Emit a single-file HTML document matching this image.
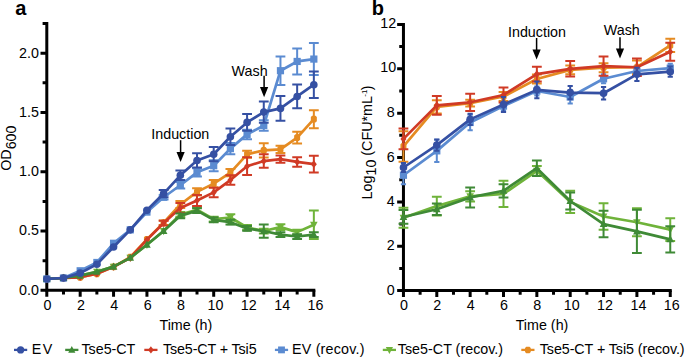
<!DOCTYPE html>
<html><head><meta charset="utf-8"><style>
html,body{margin:0;padding:0;background:#fff;}
svg{display:block;}
text{font-family:"Liberation Sans",sans-serif;font-size:14.3px;fill:#000;stroke:#000;stroke-width:0;}
</style></head><body>
<svg width="685" height="358" viewBox="0 0 685 358">
<rect width="685" height="358" fill="#fff"/>
<path d="M46.80 22.00V291.85M45.30 290.35H315.34" stroke="#000" stroke-width="3" fill="none"/>
<path d="M40.50 290.35H46.80M42.60 260.70H46.80M40.50 231.05H46.80M42.60 201.40H46.80M40.50 171.75H46.80M42.60 142.10H46.80M40.50 112.45H46.80M42.60 82.80H46.80M40.50 53.15H46.80M42.60 23.50H46.80M46.80 290.35V296.65M63.49 290.35V294.55M80.18 290.35V296.65M96.87 290.35V294.55M113.56 290.35V296.65M130.25 290.35V294.55M146.94 290.35V296.65M163.63 290.35V294.55M180.32 290.35V296.65M197.01 290.35V294.55M213.70 290.35V296.65M230.39 290.35V294.55M247.08 290.35V296.65M263.77 290.35V294.55M280.46 290.35V296.65M297.15 290.35V294.55M313.84 290.35V296.65" stroke="#000" stroke-width="3" fill="none"/>
<text x="38.90" y="294.75" text-anchor="end" >0.0</text>
<text x="38.90" y="235.45" text-anchor="end" >0.5</text>
<text x="38.90" y="176.15" text-anchor="end" >1.0</text>
<text x="38.90" y="116.85" text-anchor="end" >1.5</text>
<text x="38.90" y="57.55" text-anchor="end" >2.0</text>
<text x="47.55" y="309.70" text-anchor="middle" >0</text>
<text x="80.93" y="309.70" text-anchor="middle" >2</text>
<text x="114.31" y="309.70" text-anchor="middle" >4</text>
<text x="147.69" y="309.70" text-anchor="middle" >6</text>
<text x="181.07" y="309.70" text-anchor="middle" >8</text>
<text x="215.40" y="309.70" text-anchor="middle" >10</text>
<text x="248.78" y="309.70" text-anchor="middle" >12</text>
<text x="282.16" y="309.70" text-anchor="middle" >14</text>
<text x="315.54" y="309.70" text-anchor="middle" >16</text>
<path d="M403.45 22.94V292.10M401.95 290.60H671.75" stroke="#000" stroke-width="3" fill="none"/>
<path d="M397.15 290.60H403.45M399.25 268.42H403.45M397.15 246.24H403.45M399.25 224.06H403.45M397.15 201.88H403.45M399.25 179.70H403.45M397.15 157.52H403.45M399.25 135.34H403.45M397.15 113.16H403.45M399.25 90.98H403.45M397.15 68.80H403.45M399.25 46.62H403.45M397.15 24.44H403.45M403.45 290.60V296.90M420.12 290.60V294.80M436.80 290.60V296.90M453.48 290.60V294.80M470.15 290.60V296.90M486.82 290.60V294.80M503.50 290.60V296.90M520.17 290.60V294.80M536.85 290.60V296.90M553.52 290.60V294.80M570.20 290.60V296.90M586.88 290.60V294.80M603.55 290.60V296.90M620.23 290.60V294.80M636.90 290.60V296.90M653.58 290.60V294.80M670.25 290.60V296.90" stroke="#000" stroke-width="3" fill="none"/>
<text x="394.70" y="294.60" text-anchor="end" >0</text>
<text x="394.70" y="250.24" text-anchor="end" >2</text>
<text x="394.70" y="205.88" text-anchor="end" >4</text>
<text x="394.70" y="161.52" text-anchor="end" >6</text>
<text x="394.70" y="117.16" text-anchor="end" >8</text>
<text x="396.10" y="72.30" text-anchor="end" >10</text>
<text x="396.10" y="27.94" text-anchor="end" >12</text>
<text x="403.95" y="309.90" text-anchor="middle" >0</text>
<text x="437.30" y="309.90" text-anchor="middle" >2</text>
<text x="470.65" y="309.90" text-anchor="middle" >4</text>
<text x="504.00" y="309.90" text-anchor="middle" >6</text>
<text x="537.35" y="309.90" text-anchor="middle" >8</text>
<text x="571.70" y="309.90" text-anchor="middle" >10</text>
<text x="605.05" y="309.90" text-anchor="middle" >12</text>
<text x="638.40" y="309.90" text-anchor="middle" >14</text>
<text x="671.75" y="309.90" text-anchor="middle" >16</text>
<text x="185.80" y="329.50" text-anchor="middle" >Time (h)</text>
<text x="542.00" y="330.30" text-anchor="middle" >Time (h)</text>
<text transform="translate(10.6,170.8) rotate(-90)">OD<tspan dy="5.8">600</tspan></text>
<text transform="translate(371.8,199.4) rotate(-90)">Log<tspan dy="4">10</tspan><tspan dy="-4"> (CFU*mL</tspan><tspan style="font-size:8px" dx="-0.6" dy="-5">-1</tspan><tspan dx="-0.8" dy="5">)</tspan></text>
<text x="15.2" y="14.8" style="font-weight:bold;font-size:20px">a</text>
<text x="371.7" y="14.8" style="font-weight:bold;font-size:20px">b</text>
<text x="180.30" y="138.90" text-anchor="middle" >Induction</text>
<path d="M180.60 140.20V156.10" stroke="#000" stroke-width="1.5"/>
<path d="M176.50 151.90L184.70 151.90L180.60 162.10Z" fill="#000"/>
<text x="249.60" y="75.70" text-anchor="middle" >Wash</text>
<path d="M264.10 75.70V91.20" stroke="#000" stroke-width="1.5"/>
<path d="M260.00 87.00L268.20 87.00L264.10 97.20Z" fill="#000"/>
<text x="537.00" y="36.80" text-anchor="middle" >Induction</text>
<path d="M536.60 38.00V53.60" stroke="#000" stroke-width="1.5"/>
<path d="M532.50 49.40L540.70 49.40L536.60 59.60Z" fill="#000"/>
<text x="621.80" y="35.00" text-anchor="middle" >Wash</text>
<path d="M620.00 37.30V52.60" stroke="#000" stroke-width="1.5"/>
<path d="M615.90 48.40L624.10 48.40L620.00 58.60Z" fill="#000"/>
<polyline points="46.80,278.96 63.49,278.02 80.18,277.30 96.87,273.75 113.56,266.87 130.25,257.14 146.94,239.35 163.63,222.75 180.32,204.48 197.01,191.91 213.70,183.61 230.39,172.58 247.08,154.32 263.77,150.40 280.46,149.33 297.15,137.59 313.84,119.21" fill="none" stroke="#e58b22" stroke-width="2.7" stroke-linejoin="round"/>
<path d="M163.63 220.38V225.12M158.73 220.38H168.53M158.73 225.12H168.53" stroke="#e58b22" stroke-width="2.0" fill="none"/>
<path d="M180.32 200.93V208.04M175.42 200.93H185.22M175.42 208.04H185.22" stroke="#e58b22" stroke-width="2.0" fill="none"/>
<path d="M197.01 188.35V195.47M192.11 188.35H201.91M192.11 195.47H201.91" stroke="#e58b22" stroke-width="2.0" fill="none"/>
<path d="M213.70 180.05V187.17M208.80 180.05H218.60M208.80 187.17H218.60" stroke="#e58b22" stroke-width="2.0" fill="none"/>
<path d="M230.39 169.02V176.14M225.49 169.02H235.29M225.49 176.14H235.29" stroke="#e58b22" stroke-width="2.0" fill="none"/>
<path d="M247.08 150.76V157.87M242.18 150.76H251.98M242.18 157.87H251.98" stroke="#e58b22" stroke-width="2.0" fill="none"/>
<path d="M263.77 143.29V157.52M258.87 143.29H268.67M258.87 157.52H268.67" stroke="#e58b22" stroke-width="2.0" fill="none"/>
<path d="M280.46 145.78V152.89M275.56 145.78H285.36M275.56 152.89H285.36" stroke="#e58b22" stroke-width="2.0" fill="none"/>
<path d="M297.15 131.66V143.52M292.25 131.66H302.05M292.25 143.52H302.05" stroke="#e58b22" stroke-width="2.0" fill="none"/>
<path d="M313.84 110.20V128.22M308.94 110.20H318.74M308.94 128.22H318.74" stroke="#e58b22" stroke-width="2.0" fill="none"/>
<path d="M45.10 275.56L48.50 275.56L49.80 276.86L49.80 281.06L48.50 282.36L45.10 282.36L43.80 281.06L43.80 276.86Z" fill="#e58b22"/>
<path d="M61.79 274.62L65.19 274.62L66.49 275.92L66.49 280.12L65.19 281.42L61.79 281.42L60.49 280.12L60.49 275.92Z" fill="#e58b22"/>
<path d="M78.48 273.90L81.88 273.90L83.18 275.20L83.18 279.40L81.88 280.70L78.48 280.70L77.18 279.40L77.18 275.20Z" fill="#e58b22"/>
<path d="M95.17 270.35L98.57 270.35L99.87 271.65L99.87 275.85L98.57 277.15L95.17 277.15L93.87 275.85L93.87 271.65Z" fill="#e58b22"/>
<path d="M111.86 263.47L115.26 263.47L116.56 264.77L116.56 268.97L115.26 270.27L111.86 270.27L110.56 268.97L110.56 264.77Z" fill="#e58b22"/>
<path d="M128.55 253.74L131.95 253.74L133.25 255.04L133.25 259.24L131.95 260.54L128.55 260.54L127.25 259.24L127.25 255.04Z" fill="#e58b22"/>
<path d="M145.24 235.95L148.64 235.95L149.94 237.25L149.94 241.45L148.64 242.75L145.24 242.75L143.94 241.45L143.94 237.25Z" fill="#e58b22"/>
<path d="M161.93 219.35L165.33 219.35L166.63 220.65L166.63 224.85L165.33 226.15L161.93 226.15L160.63 224.85L160.63 220.65Z" fill="#e58b22"/>
<path d="M178.62 201.08L182.02 201.08L183.32 202.38L183.32 206.58L182.02 207.88L178.62 207.88L177.32 206.58L177.32 202.38Z" fill="#e58b22"/>
<path d="M195.31 188.51L198.71 188.51L200.01 189.81L200.01 194.01L198.71 195.31L195.31 195.31L194.01 194.01L194.01 189.81Z" fill="#e58b22"/>
<path d="M212.00 180.21L215.40 180.21L216.70 181.51L216.70 185.71L215.40 187.01L212.00 187.01L210.70 185.71L210.70 181.51Z" fill="#e58b22"/>
<path d="M228.69 169.18L232.09 169.18L233.39 170.48L233.39 174.68L232.09 175.98L228.69 175.98L227.39 174.68L227.39 170.48Z" fill="#e58b22"/>
<path d="M245.38 150.92L248.78 150.92L250.08 152.22L250.08 156.42L248.78 157.72L245.38 157.72L244.08 156.42L244.08 152.22Z" fill="#e58b22"/>
<path d="M262.07 147.00L265.47 147.00L266.77 148.30L266.77 152.50L265.47 153.80L262.07 153.80L260.77 152.50L260.77 148.30Z" fill="#e58b22"/>
<path d="M278.76 145.93L282.16 145.93L283.46 147.23L283.46 151.43L282.16 152.73L278.76 152.73L277.46 151.43L277.46 147.23Z" fill="#e58b22"/>
<path d="M295.45 134.19L298.85 134.19L300.15 135.49L300.15 139.69L298.85 140.99L295.45 140.99L294.15 139.69L294.15 135.49Z" fill="#e58b22"/>
<path d="M312.14 115.81L315.54 115.81L316.84 117.11L316.84 121.31L315.54 122.61L312.14 122.61L310.84 121.31L310.84 117.11Z" fill="#e58b22"/>
<polyline points="46.80,278.96 63.49,278.02 80.18,275.64 96.87,271.85 113.56,266.63 130.25,257.85 146.94,244.69 163.63,231.05 180.32,214.45 197.01,209.70 213.70,219.19 230.39,217.53 247.08,227.49 263.77,231.05 280.46,227.14 297.15,232.12 313.84,224.65" fill="none" stroke="#6fb33a" stroke-width="2.7" stroke-linejoin="round"/>
<path d="M180.32 212.07V216.82M175.42 212.07H185.22M175.42 216.82H185.22" stroke="#6fb33a" stroke-width="2.0" fill="none"/>
<path d="M197.01 207.33V212.07M192.11 207.33H201.91M192.11 212.07H201.91" stroke="#6fb33a" stroke-width="2.0" fill="none"/>
<path d="M213.70 216.82V221.56M208.80 216.82H218.60M208.80 221.56H218.60" stroke="#6fb33a" stroke-width="2.0" fill="none"/>
<path d="M230.39 214.21V220.85M225.49 214.21H235.29M225.49 220.85H235.29" stroke="#6fb33a" stroke-width="2.0" fill="none"/>
<path d="M247.08 225.12V229.86M242.18 225.12H251.98M242.18 229.86H251.98" stroke="#6fb33a" stroke-width="2.0" fill="none"/>
<path d="M263.77 228.68V233.42M258.87 228.68H268.67M258.87 233.42H268.67" stroke="#6fb33a" stroke-width="2.0" fill="none"/>
<path d="M280.46 224.17V230.10M275.56 224.17H285.36M275.56 230.10H285.36" stroke="#6fb33a" stroke-width="2.0" fill="none"/>
<path d="M297.15 229.75V234.49M292.25 229.75H302.05M292.25 234.49H302.05" stroke="#6fb33a" stroke-width="2.0" fill="none"/>
<path d="M313.84 210.41V238.88M308.94 210.41H318.74M308.94 238.88H318.74" stroke="#6fb33a" stroke-width="2.0" fill="none"/>
<path d="M46.80 283.16L50.60 275.96L43.00 275.96Z" fill="#6fb33a"/>
<path d="M63.49 282.22L67.29 275.02L59.69 275.02Z" fill="#6fb33a"/>
<path d="M80.18 279.84L83.98 272.64L76.38 272.64Z" fill="#6fb33a"/>
<path d="M96.87 276.05L100.67 268.85L93.07 268.85Z" fill="#6fb33a"/>
<path d="M113.56 270.83L117.36 263.63L109.76 263.63Z" fill="#6fb33a"/>
<path d="M130.25 262.05L134.05 254.85L126.45 254.85Z" fill="#6fb33a"/>
<path d="M146.94 248.89L150.74 241.69L143.14 241.69Z" fill="#6fb33a"/>
<path d="M163.63 235.25L167.43 228.05L159.83 228.05Z" fill="#6fb33a"/>
<path d="M180.32 218.65L184.12 211.45L176.52 211.45Z" fill="#6fb33a"/>
<path d="M197.01 213.90L200.81 206.70L193.21 206.70Z" fill="#6fb33a"/>
<path d="M213.70 223.39L217.50 216.19L209.90 216.19Z" fill="#6fb33a"/>
<path d="M230.39 221.73L234.19 214.53L226.59 214.53Z" fill="#6fb33a"/>
<path d="M247.08 231.69L250.88 224.49L243.28 224.49Z" fill="#6fb33a"/>
<path d="M263.77 235.25L267.57 228.05L259.97 228.05Z" fill="#6fb33a"/>
<path d="M280.46 231.34L284.26 224.14L276.66 224.14Z" fill="#6fb33a"/>
<path d="M297.15 236.32L300.95 229.12L293.35 229.12Z" fill="#6fb33a"/>
<path d="M313.84 228.85L317.64 221.65L310.04 221.65Z" fill="#6fb33a"/>
<polyline points="46.80,278.96 63.49,278.02 80.18,270.78 96.87,262.48 113.56,243.27 130.25,229.86 146.94,212.07 163.63,197.25 180.32,185.27 197.01,172.34 213.70,165.70 230.39,148.62 247.08,134.39 263.77,125.50 280.46,70.70 297.15,61.45 313.84,59.08" fill="none" stroke="#5b8bd1" stroke-width="2.7" stroke-linejoin="round"/>
<path d="M163.63 194.88V199.62M158.73 194.88H168.53M158.73 199.62H168.53" stroke="#5b8bd1" stroke-width="2.0" fill="none"/>
<path d="M180.32 181.95V188.59M175.42 181.95H185.22M175.42 188.59H185.22" stroke="#5b8bd1" stroke-width="2.0" fill="none"/>
<path d="M197.01 168.19V176.49M192.11 168.19H201.91M192.11 176.49H201.91" stroke="#5b8bd1" stroke-width="2.0" fill="none"/>
<path d="M213.70 160.13V171.28M208.80 160.13H218.60M208.80 171.28H218.60" stroke="#5b8bd1" stroke-width="2.0" fill="none"/>
<path d="M230.39 143.05V154.20M225.49 143.05H235.29M225.49 154.20H235.29" stroke="#5b8bd1" stroke-width="2.0" fill="none"/>
<path d="M247.08 129.65V139.14M242.18 129.65H251.98M242.18 139.14H251.98" stroke="#5b8bd1" stroke-width="2.0" fill="none"/>
<path d="M263.77 120.16V130.83M258.87 120.16H268.67M258.87 130.83H268.67" stroke="#5b8bd1" stroke-width="2.0" fill="none"/>
<path d="M280.46 56.47V84.93M275.56 56.47H285.36M275.56 84.93H285.36" stroke="#5b8bd1" stroke-width="2.0" fill="none"/>
<path d="M297.15 48.41V74.50M292.25 48.41H302.05M292.25 74.50H302.05" stroke="#5b8bd1" stroke-width="2.0" fill="none"/>
<path d="M313.84 43.07V75.09M308.94 43.07H318.74M308.94 75.09H318.74" stroke="#5b8bd1" stroke-width="2.0" fill="none"/>
<rect x="43.20" y="275.36" width="7.20" height="7.20" fill="#5b8bd1"/>
<rect x="59.89" y="274.42" width="7.20" height="7.20" fill="#5b8bd1"/>
<rect x="76.58" y="267.18" width="7.20" height="7.20" fill="#5b8bd1"/>
<rect x="93.27" y="258.88" width="7.20" height="7.20" fill="#5b8bd1"/>
<rect x="109.96" y="239.67" width="7.20" height="7.20" fill="#5b8bd1"/>
<rect x="126.65" y="226.26" width="7.20" height="7.20" fill="#5b8bd1"/>
<rect x="143.34" y="208.47" width="7.20" height="7.20" fill="#5b8bd1"/>
<rect x="160.03" y="193.65" width="7.20" height="7.20" fill="#5b8bd1"/>
<rect x="176.72" y="181.67" width="7.20" height="7.20" fill="#5b8bd1"/>
<rect x="193.41" y="168.74" width="7.20" height="7.20" fill="#5b8bd1"/>
<rect x="210.10" y="162.10" width="7.20" height="7.20" fill="#5b8bd1"/>
<rect x="226.79" y="145.02" width="7.20" height="7.20" fill="#5b8bd1"/>
<rect x="243.48" y="130.79" width="7.20" height="7.20" fill="#5b8bd1"/>
<rect x="260.17" y="121.90" width="7.20" height="7.20" fill="#5b8bd1"/>
<rect x="276.86" y="67.10" width="7.20" height="7.20" fill="#5b8bd1"/>
<rect x="293.55" y="57.85" width="7.20" height="7.20" fill="#5b8bd1"/>
<rect x="310.24" y="55.48" width="7.20" height="7.20" fill="#5b8bd1"/>
<polyline points="46.80,278.96 63.49,278.02 80.18,277.30 96.87,273.75 113.56,266.87 130.25,257.85 146.94,239.71 163.63,223.10 180.32,207.92 197.01,200.45 213.70,192.39 230.39,180.05 247.08,166.18 263.77,161.08 280.46,159.18 297.15,161.91 313.84,164.16" fill="none" stroke="#d03a25" stroke-width="2.7" stroke-linejoin="round"/>
<path d="M163.63 220.73V225.48M158.73 220.73H168.53M158.73 225.48H168.53" stroke="#d03a25" stroke-width="2.0" fill="none"/>
<path d="M180.32 202.94V212.90M175.42 202.94H185.22M175.42 212.90H185.22" stroke="#d03a25" stroke-width="2.0" fill="none"/>
<path d="M197.01 194.88V206.03M192.11 194.88H201.91M192.11 206.03H201.91" stroke="#d03a25" stroke-width="2.0" fill="none"/>
<path d="M213.70 187.64V197.13M208.80 187.64H218.60M208.80 197.13H218.60" stroke="#d03a25" stroke-width="2.0" fill="none"/>
<path d="M230.39 175.31V184.80M225.49 175.31H235.29M225.49 184.80H235.29" stroke="#d03a25" stroke-width="2.0" fill="none"/>
<path d="M247.08 157.28V175.07M242.18 157.28H251.98M242.18 175.07H251.98" stroke="#d03a25" stroke-width="2.0" fill="none"/>
<path d="M263.77 154.32V167.84M258.87 154.32H268.67M258.87 167.84H268.67" stroke="#d03a25" stroke-width="2.0" fill="none"/>
<path d="M280.46 155.62V162.74M275.56 155.62H285.36M275.56 162.74H285.36" stroke="#d03a25" stroke-width="2.0" fill="none"/>
<path d="M297.15 157.16V166.65M292.25 157.16H302.05M292.25 166.65H302.05" stroke="#d03a25" stroke-width="2.0" fill="none"/>
<path d="M313.84 155.86V172.46M308.94 155.86H318.74M308.94 172.46H318.74" stroke="#d03a25" stroke-width="2.0" fill="none"/>
<path d="M46.80 275.16L49.80 278.96L46.80 282.76L43.80 278.96Z" fill="#d03a25"/>
<path d="M63.49 274.22L66.49 278.02L63.49 281.82L60.49 278.02Z" fill="#d03a25"/>
<path d="M80.18 273.50L83.18 277.30L80.18 281.10L77.18 277.30Z" fill="#d03a25"/>
<path d="M96.87 269.95L99.87 273.75L96.87 277.55L93.87 273.75Z" fill="#d03a25"/>
<path d="M113.56 263.07L116.56 266.87L113.56 270.67L110.56 266.87Z" fill="#d03a25"/>
<path d="M130.25 254.05L133.25 257.85L130.25 261.65L127.25 257.85Z" fill="#d03a25"/>
<path d="M146.94 235.91L149.94 239.71L146.94 243.51L143.94 239.71Z" fill="#d03a25"/>
<path d="M163.63 219.30L166.63 223.10L163.63 226.90L160.63 223.10Z" fill="#d03a25"/>
<path d="M180.32 204.12L183.32 207.92L180.32 211.72L177.32 207.92Z" fill="#d03a25"/>
<path d="M197.01 196.65L200.01 200.45L197.01 204.25L194.01 200.45Z" fill="#d03a25"/>
<path d="M213.70 188.59L216.70 192.39L213.70 196.19L210.70 192.39Z" fill="#d03a25"/>
<path d="M230.39 176.25L233.39 180.05L230.39 183.85L227.39 180.05Z" fill="#d03a25"/>
<path d="M247.08 162.38L250.08 166.18L247.08 169.98L244.08 166.18Z" fill="#d03a25"/>
<path d="M263.77 157.28L266.77 161.08L263.77 164.88L260.77 161.08Z" fill="#d03a25"/>
<path d="M280.46 155.38L283.46 159.18L280.46 162.98L277.46 159.18Z" fill="#d03a25"/>
<path d="M297.15 158.11L300.15 161.91L297.15 165.71L294.15 161.91Z" fill="#d03a25"/>
<path d="M313.84 160.36L316.84 164.16L313.84 167.96L310.84 164.16Z" fill="#d03a25"/>
<polyline points="46.80,278.96 63.49,278.02 80.18,275.64 96.87,271.85 113.56,266.63 130.25,257.85 146.94,244.69 163.63,231.05 180.32,215.87 197.01,210.65 213.70,219.90 230.39,222.16 247.08,228.44 263.77,231.05 280.46,234.61 297.15,236.51 313.84,234.61" fill="none" stroke="#3f8a36" stroke-width="2.7" stroke-linejoin="round"/>
<path d="M180.32 213.50V218.24M175.42 213.50H185.22M175.42 218.24H185.22" stroke="#3f8a36" stroke-width="2.0" fill="none"/>
<path d="M197.01 208.28V213.02M192.11 208.28H201.91M192.11 213.02H201.91" stroke="#3f8a36" stroke-width="2.0" fill="none"/>
<path d="M213.70 217.53V222.27M208.80 217.53H218.60M208.80 222.27H218.60" stroke="#3f8a36" stroke-width="2.0" fill="none"/>
<path d="M230.39 219.78V224.53M225.49 219.78H235.29M225.49 224.53H235.29" stroke="#3f8a36" stroke-width="2.0" fill="none"/>
<path d="M247.08 226.07V230.81M242.18 226.07H251.98M242.18 230.81H251.98" stroke="#3f8a36" stroke-width="2.0" fill="none"/>
<path d="M263.77 224.41V237.69M258.87 224.41H268.67M258.87 237.69H268.67" stroke="#3f8a36" stroke-width="2.0" fill="none"/>
<path d="M280.46 232.24V236.98M275.56 232.24H285.36M275.56 236.98H285.36" stroke="#3f8a36" stroke-width="2.0" fill="none"/>
<path d="M297.15 234.13V238.88M292.25 234.13H302.05M292.25 238.88H302.05" stroke="#3f8a36" stroke-width="2.0" fill="none"/>
<path d="M313.84 232.24V236.98M308.94 232.24H318.74M308.94 236.98H318.74" stroke="#3f8a36" stroke-width="2.0" fill="none"/>
<path d="M46.80 274.76L50.60 281.96L43.00 281.96Z" fill="#3f8a36"/>
<path d="M63.49 273.82L67.29 281.02L59.69 281.02Z" fill="#3f8a36"/>
<path d="M80.18 271.44L83.98 278.64L76.38 278.64Z" fill="#3f8a36"/>
<path d="M96.87 267.65L100.67 274.85L93.07 274.85Z" fill="#3f8a36"/>
<path d="M113.56 262.43L117.36 269.63L109.76 269.63Z" fill="#3f8a36"/>
<path d="M130.25 253.65L134.05 260.85L126.45 260.85Z" fill="#3f8a36"/>
<path d="M146.94 240.49L150.74 247.69L143.14 247.69Z" fill="#3f8a36"/>
<path d="M163.63 226.85L167.43 234.05L159.83 234.05Z" fill="#3f8a36"/>
<path d="M180.32 211.67L184.12 218.87L176.52 218.87Z" fill="#3f8a36"/>
<path d="M197.01 206.45L200.81 213.65L193.21 213.65Z" fill="#3f8a36"/>
<path d="M213.70 215.70L217.50 222.90L209.90 222.90Z" fill="#3f8a36"/>
<path d="M230.39 217.96L234.19 225.16L226.59 225.16Z" fill="#3f8a36"/>
<path d="M247.08 224.24L250.88 231.44L243.28 231.44Z" fill="#3f8a36"/>
<path d="M263.77 226.85L267.57 234.05L259.97 234.05Z" fill="#3f8a36"/>
<path d="M280.46 230.41L284.26 237.61L276.66 237.61Z" fill="#3f8a36"/>
<path d="M297.15 232.31L300.95 239.51L293.35 239.51Z" fill="#3f8a36"/>
<path d="M313.84 230.41L317.64 237.61L310.04 237.61Z" fill="#3f8a36"/>
<polyline points="46.80,278.96 63.49,278.02 80.18,273.15 96.87,264.26 113.56,247.06 130.25,229.86 146.94,210.30 163.63,193.57 180.32,175.31 197.01,160.48 213.70,154.20 230.39,136.76 247.08,122.41 263.77,112.09 280.46,108.42 297.15,96.44 313.84,84.70" fill="none" stroke="#3550a3" stroke-width="2.7" stroke-linejoin="round"/>
<path d="M163.63 190.01V197.13M158.73 190.01H168.53M158.73 197.13H168.53" stroke="#3550a3" stroke-width="2.0" fill="none"/>
<path d="M180.32 170.56V180.05M175.42 170.56H185.22M175.42 180.05H185.22" stroke="#3550a3" stroke-width="2.0" fill="none"/>
<path d="M197.01 153.37V167.60M192.11 153.37H201.91M192.11 167.60H201.91" stroke="#3550a3" stroke-width="2.0" fill="none"/>
<path d="M213.70 147.08V161.31M208.80 147.08H218.60M208.80 161.31H218.60" stroke="#3550a3" stroke-width="2.0" fill="none"/>
<path d="M230.39 128.46V145.07M225.49 128.46H235.29M225.49 145.07H235.29" stroke="#3550a3" stroke-width="2.0" fill="none"/>
<path d="M247.08 114.11V130.71M242.18 114.11H251.98M242.18 130.71H251.98" stroke="#3550a3" stroke-width="2.0" fill="none"/>
<path d="M263.77 101.42V122.77M258.87 101.42H268.67M258.87 122.77H268.67" stroke="#3550a3" stroke-width="2.0" fill="none"/>
<path d="M280.46 96.08V120.75M275.56 96.08H285.36M275.56 120.75H285.36" stroke="#3550a3" stroke-width="2.0" fill="none"/>
<path d="M297.15 84.58V108.30M292.25 84.58H302.05M292.25 108.30H302.05" stroke="#3550a3" stroke-width="2.0" fill="none"/>
<path d="M313.84 71.41V97.98M308.94 71.41H318.74M308.94 97.98H318.74" stroke="#3550a3" stroke-width="2.0" fill="none"/>
<circle cx="46.80" cy="278.96" r="3.80" fill="#3550a3"/>
<circle cx="63.49" cy="278.02" r="3.80" fill="#3550a3"/>
<circle cx="80.18" cy="273.15" r="3.80" fill="#3550a3"/>
<circle cx="96.87" cy="264.26" r="3.80" fill="#3550a3"/>
<circle cx="113.56" cy="247.06" r="3.80" fill="#3550a3"/>
<circle cx="130.25" cy="229.86" r="3.80" fill="#3550a3"/>
<circle cx="146.94" cy="210.30" r="3.80" fill="#3550a3"/>
<circle cx="163.63" cy="193.57" r="3.80" fill="#3550a3"/>
<circle cx="180.32" cy="175.31" r="3.80" fill="#3550a3"/>
<circle cx="197.01" cy="160.48" r="3.80" fill="#3550a3"/>
<circle cx="213.70" cy="154.20" r="3.80" fill="#3550a3"/>
<circle cx="230.39" cy="136.76" r="3.80" fill="#3550a3"/>
<circle cx="247.08" cy="122.41" r="3.80" fill="#3550a3"/>
<circle cx="263.77" cy="112.09" r="3.80" fill="#3550a3"/>
<circle cx="280.46" cy="108.42" r="3.80" fill="#3550a3"/>
<circle cx="297.15" cy="96.44" r="3.80" fill="#3550a3"/>
<circle cx="313.84" cy="84.70" r="3.80" fill="#3550a3"/>
<polyline points="403.45,146.43 436.80,106.95 470.15,103.18 503.50,96.53 536.85,79.00 570.20,69.91 603.55,67.69 636.90,67.25 670.25,45.29" fill="none" stroke="#e58b22" stroke-width="2.7" stroke-linejoin="round"/>
<path d="M403.45 131.13V161.73M398.55 131.13H408.35M398.55 161.73H408.35" stroke="#e58b22" stroke-width="2.0" fill="none"/>
<path d="M436.80 100.30V113.60M431.90 100.30H441.70M431.90 113.60H441.70" stroke="#e58b22" stroke-width="2.0" fill="none"/>
<path d="M470.15 99.85V106.51M465.25 99.85H475.05M465.25 106.51H475.05" stroke="#e58b22" stroke-width="2.0" fill="none"/>
<path d="M503.50 92.09V100.96M498.60 92.09H508.40M498.60 100.96H508.40" stroke="#e58b22" stroke-width="2.0" fill="none"/>
<path d="M536.85 74.57V83.44M531.95 74.57H541.75M531.95 83.44H541.75" stroke="#e58b22" stroke-width="2.0" fill="none"/>
<path d="M570.20 65.47V74.35M565.30 65.47H575.10M565.30 74.35H575.10" stroke="#e58b22" stroke-width="2.0" fill="none"/>
<path d="M603.55 63.26V72.13M598.65 63.26H608.45M598.65 72.13H608.45" stroke="#e58b22" stroke-width="2.0" fill="none"/>
<path d="M636.90 60.59V73.90M632.00 60.59H641.80M632.00 73.90H641.80" stroke="#e58b22" stroke-width="2.0" fill="none"/>
<path d="M670.25 38.64V51.94M665.35 38.64H675.15M665.35 51.94H675.15" stroke="#e58b22" stroke-width="2.0" fill="none"/>
<path d="M401.75 143.03L405.15 143.03L406.45 144.33L406.45 148.53L405.15 149.83L401.75 149.83L400.45 148.53L400.45 144.33Z" fill="#e58b22"/>
<path d="M435.10 103.55L438.50 103.55L439.80 104.85L439.80 109.05L438.50 110.35L435.10 110.35L433.80 109.05L433.80 104.85Z" fill="#e58b22"/>
<path d="M468.45 99.78L471.85 99.78L473.15 101.08L473.15 105.28L471.85 106.58L468.45 106.58L467.15 105.28L467.15 101.08Z" fill="#e58b22"/>
<path d="M501.80 93.13L505.20 93.13L506.50 94.43L506.50 98.63L505.20 99.93L501.80 99.93L500.50 98.63L500.50 94.43Z" fill="#e58b22"/>
<path d="M535.15 75.60L538.55 75.60L539.85 76.90L539.85 81.10L538.55 82.40L535.15 82.40L533.85 81.10L533.85 76.90Z" fill="#e58b22"/>
<path d="M568.50 66.51L571.90 66.51L573.20 67.81L573.20 72.01L571.90 73.31L568.50 73.31L567.20 72.01L567.20 67.81Z" fill="#e58b22"/>
<path d="M601.85 64.29L605.25 64.29L606.55 65.59L606.55 69.79L605.25 71.09L601.85 71.09L600.55 69.79L600.55 65.59Z" fill="#e58b22"/>
<path d="M635.20 63.85L638.60 63.85L639.90 65.15L639.90 69.35L638.60 70.65L635.20 70.65L633.90 69.35L633.90 65.15Z" fill="#e58b22"/>
<path d="M668.55 41.89L671.95 41.89L673.25 43.19L673.25 47.39L671.95 48.69L668.55 48.69L667.25 47.39L667.25 43.19Z" fill="#e58b22"/>
<polyline points="403.45,217.85 436.80,206.09 470.15,196.34 503.50,193.90 536.85,170.83 570.20,201.88 603.55,216.52 636.90,222.29 670.25,229.61" fill="none" stroke="#6fb33a" stroke-width="2.7" stroke-linejoin="round"/>
<path d="M403.45 207.87V227.83M398.55 207.87H408.35M398.55 227.83H408.35" stroke="#6fb33a" stroke-width="2.0" fill="none"/>
<path d="M436.80 196.78V215.41M431.90 196.78H441.70M431.90 215.41H441.70" stroke="#6fb33a" stroke-width="2.0" fill="none"/>
<path d="M470.15 191.23V201.44M465.25 191.23H475.05M465.25 201.44H475.05" stroke="#6fb33a" stroke-width="2.0" fill="none"/>
<path d="M503.50 180.81V206.98M498.60 180.81H508.40M498.60 206.98H508.40" stroke="#6fb33a" stroke-width="2.0" fill="none"/>
<path d="M536.85 165.95V175.71M531.95 165.95H541.75M531.95 175.71H541.75" stroke="#6fb33a" stroke-width="2.0" fill="none"/>
<path d="M570.20 190.79V212.97M565.30 190.79H575.10M565.30 212.97H575.10" stroke="#6fb33a" stroke-width="2.0" fill="none"/>
<path d="M603.55 203.21V229.83M598.65 203.21H608.45M598.65 229.83H608.45" stroke="#6fb33a" stroke-width="2.0" fill="none"/>
<path d="M636.90 208.31V236.26M632.00 208.31H641.80M632.00 236.26H641.80" stroke="#6fb33a" stroke-width="2.0" fill="none"/>
<path d="M670.25 218.29V240.92M665.35 218.29H675.15M665.35 240.92H675.15" stroke="#6fb33a" stroke-width="2.0" fill="none"/>
<path d="M403.45 222.05L407.25 214.85L399.65 214.85Z" fill="#6fb33a"/>
<path d="M436.80 210.29L440.60 203.09L433.00 203.09Z" fill="#6fb33a"/>
<path d="M470.15 200.54L473.95 193.34L466.35 193.34Z" fill="#6fb33a"/>
<path d="M503.50 198.10L507.30 190.90L499.70 190.90Z" fill="#6fb33a"/>
<path d="M536.85 175.03L540.65 167.83L533.05 167.83Z" fill="#6fb33a"/>
<path d="M570.20 206.08L574.00 198.88L566.40 198.88Z" fill="#6fb33a"/>
<path d="M603.55 220.72L607.35 213.52L599.75 213.52Z" fill="#6fb33a"/>
<path d="M636.90 226.49L640.70 219.29L633.10 219.29Z" fill="#6fb33a"/>
<path d="M670.25 233.81L674.05 226.61L666.45 226.61Z" fill="#6fb33a"/>
<polyline points="403.45,175.26 436.80,150.87 470.15,122.48 503.50,106.06 536.85,90.98 570.20,96.97 603.55,78.78 636.90,71.02 670.25,68.13" fill="none" stroke="#5b8bd1" stroke-width="2.7" stroke-linejoin="round"/>
<path d="M403.45 166.39V184.14M400.85 166.39H406.05M400.85 184.14H406.05" stroke="#5b8bd1" stroke-width="2.0" fill="none"/>
<path d="M436.80 139.78V161.96M434.20 139.78H439.40M434.20 161.96H439.40" stroke="#5b8bd1" stroke-width="2.0" fill="none"/>
<path d="M470.15 114.71V130.24M467.55 114.71H472.75M467.55 130.24H472.75" stroke="#5b8bd1" stroke-width="2.0" fill="none"/>
<path d="M503.50 101.63V110.50M500.90 101.63H506.10M500.90 110.50H506.10" stroke="#5b8bd1" stroke-width="2.0" fill="none"/>
<path d="M536.85 86.54V95.42M534.25 86.54H539.45M534.25 95.42H539.45" stroke="#5b8bd1" stroke-width="2.0" fill="none"/>
<path d="M570.20 90.31V103.62M567.60 90.31H572.80M567.60 103.62H572.80" stroke="#5b8bd1" stroke-width="2.0" fill="none"/>
<path d="M603.55 74.34V83.22M600.95 74.34H606.15M600.95 83.22H606.15" stroke="#5b8bd1" stroke-width="2.0" fill="none"/>
<path d="M636.90 66.58V75.45M634.30 66.58H639.50M634.30 75.45H639.50" stroke="#5b8bd1" stroke-width="2.0" fill="none"/>
<path d="M670.25 63.70V72.57M667.65 63.70H672.85M667.65 72.57H672.85" stroke="#5b8bd1" stroke-width="2.0" fill="none"/>
<rect x="399.85" y="171.66" width="7.20" height="7.20" fill="#5b8bd1"/>
<rect x="433.20" y="147.27" width="7.20" height="7.20" fill="#5b8bd1"/>
<rect x="466.55" y="118.88" width="7.20" height="7.20" fill="#5b8bd1"/>
<rect x="499.90" y="102.46" width="7.20" height="7.20" fill="#5b8bd1"/>
<rect x="533.25" y="87.38" width="7.20" height="7.20" fill="#5b8bd1"/>
<rect x="566.60" y="93.37" width="7.20" height="7.20" fill="#5b8bd1"/>
<rect x="599.95" y="75.18" width="7.20" height="7.20" fill="#5b8bd1"/>
<rect x="633.30" y="67.42" width="7.20" height="7.20" fill="#5b8bd1"/>
<rect x="666.65" y="64.53" width="7.20" height="7.20" fill="#5b8bd1"/>
<polyline points="403.45,138.89 436.80,105.40 470.15,102.29 503.50,94.97 536.85,74.12 570.20,68.80 603.55,66.14 636.90,67.25 670.25,51.72" fill="none" stroke="#d03a25" stroke-width="2.7" stroke-linejoin="round"/>
<path d="M403.45 128.46V149.31M398.55 128.46H408.35M398.55 149.31H408.35" stroke="#d03a25" stroke-width="2.0" fill="none"/>
<path d="M436.80 96.08V114.71M431.90 96.08H441.70M431.90 114.71H441.70" stroke="#d03a25" stroke-width="2.0" fill="none"/>
<path d="M470.15 93.64V110.94M465.25 93.64H475.05M465.25 110.94H475.05" stroke="#d03a25" stroke-width="2.0" fill="none"/>
<path d="M503.50 87.43V102.51M498.60 87.43H508.40M498.60 102.51H508.40" stroke="#d03a25" stroke-width="2.0" fill="none"/>
<path d="M536.85 66.80V81.44M531.95 66.80H541.75M531.95 81.44H541.75" stroke="#d03a25" stroke-width="2.0" fill="none"/>
<path d="M570.20 61.04V76.56M565.30 61.04H575.10M565.30 76.56H575.10" stroke="#d03a25" stroke-width="2.0" fill="none"/>
<path d="M603.55 56.60V75.68M598.65 56.60H608.45M598.65 75.68H608.45" stroke="#d03a25" stroke-width="2.0" fill="none"/>
<path d="M636.90 58.38V76.12M632.00 58.38H641.80M632.00 76.12H641.80" stroke="#d03a25" stroke-width="2.0" fill="none"/>
<path d="M670.25 42.63V60.82M665.35 42.63H675.15M665.35 60.82H675.15" stroke="#d03a25" stroke-width="2.0" fill="none"/>
<path d="M403.45 135.09L406.45 138.89L403.45 142.69L400.45 138.89Z" fill="#d03a25"/>
<path d="M436.80 101.60L439.80 105.40L436.80 109.20L433.80 105.40Z" fill="#d03a25"/>
<path d="M470.15 98.49L473.15 102.29L470.15 106.09L467.15 102.29Z" fill="#d03a25"/>
<path d="M503.50 91.17L506.50 94.97L503.50 98.77L500.50 94.97Z" fill="#d03a25"/>
<path d="M536.85 70.32L539.85 74.12L536.85 77.92L533.85 74.12Z" fill="#d03a25"/>
<path d="M570.20 65.00L573.20 68.80L570.20 72.60L567.20 68.80Z" fill="#d03a25"/>
<path d="M603.55 62.34L606.55 66.14L603.55 69.94L600.55 66.14Z" fill="#d03a25"/>
<path d="M636.90 63.45L639.90 67.25L636.90 71.05L633.90 67.25Z" fill="#d03a25"/>
<path d="M670.25 47.92L673.25 51.72L670.25 55.52L667.25 51.72Z" fill="#d03a25"/>
<polyline points="403.45,216.96 436.80,209.20 470.15,197.44 503.50,190.79 536.85,168.17 570.20,200.99 603.55,224.06 636.90,231.38 670.25,239.36" fill="none" stroke="#3f8a36" stroke-width="2.7" stroke-linejoin="round"/>
<path d="M403.45 210.09V223.84M398.55 210.09H408.35M398.55 223.84H408.35" stroke="#3f8a36" stroke-width="2.0" fill="none"/>
<path d="M436.80 203.43V214.97M431.90 203.43H441.70M431.90 214.97H441.70" stroke="#3f8a36" stroke-width="2.0" fill="none"/>
<path d="M470.15 187.46V207.43M465.25 187.46H475.05M465.25 207.43H475.05" stroke="#3f8a36" stroke-width="2.0" fill="none"/>
<path d="M503.50 184.14V197.44M498.60 184.14H508.40M498.60 197.44H508.40" stroke="#3f8a36" stroke-width="2.0" fill="none"/>
<path d="M536.85 160.40V175.93M531.95 160.40H541.75M531.95 175.93H541.75" stroke="#3f8a36" stroke-width="2.0" fill="none"/>
<path d="M570.20 192.56V209.42M565.30 192.56H575.10M565.30 209.42H575.10" stroke="#3f8a36" stroke-width="2.0" fill="none"/>
<path d="M603.55 210.75V237.37M598.65 210.75H608.45M598.65 237.37H608.45" stroke="#3f8a36" stroke-width="2.0" fill="none"/>
<path d="M636.90 209.64V253.12M632.00 209.64H641.80M632.00 253.12H641.80" stroke="#3f8a36" stroke-width="2.0" fill="none"/>
<path d="M670.25 226.28V252.45M665.35 226.28H675.15M665.35 252.45H675.15" stroke="#3f8a36" stroke-width="2.0" fill="none"/>
<path d="M403.45 212.76L407.25 219.96L399.65 219.96Z" fill="#3f8a36"/>
<path d="M436.80 205.00L440.60 212.20L433.00 212.20Z" fill="#3f8a36"/>
<path d="M470.15 193.24L473.95 200.44L466.35 200.44Z" fill="#3f8a36"/>
<path d="M503.50 186.59L507.30 193.79L499.70 193.79Z" fill="#3f8a36"/>
<path d="M536.85 163.97L540.65 171.17L533.05 171.17Z" fill="#3f8a36"/>
<path d="M570.20 196.79L574.00 203.99L566.40 203.99Z" fill="#3f8a36"/>
<path d="M603.55 219.86L607.35 227.06L599.75 227.06Z" fill="#3f8a36"/>
<path d="M636.90 227.18L640.70 234.38L633.10 234.38Z" fill="#3f8a36"/>
<path d="M670.25 235.16L674.05 242.36L666.45 242.36Z" fill="#3f8a36"/>
<polyline points="403.45,167.50 436.80,145.10 470.15,119.37 503.50,104.51 536.85,89.87 570.20,92.53 603.55,93.20 636.90,74.35 670.25,71.68" fill="none" stroke="#3550a3" stroke-width="2.7" stroke-linejoin="round"/>
<path d="M403.45 163.07V171.94M400.85 163.07H406.05M400.85 171.94H406.05" stroke="#3550a3" stroke-width="2.0" fill="none"/>
<path d="M436.80 139.55V150.64M434.20 139.55H439.40M434.20 150.64H439.40" stroke="#3550a3" stroke-width="2.0" fill="none"/>
<path d="M470.15 113.83V124.92M467.55 113.83H472.75M467.55 124.92H472.75" stroke="#3550a3" stroke-width="2.0" fill="none"/>
<path d="M503.50 96.97V112.05M500.90 96.97H506.10M500.90 112.05H506.10" stroke="#3550a3" stroke-width="2.0" fill="none"/>
<path d="M536.85 81.44V98.30M534.25 81.44H539.45M534.25 98.30H539.45" stroke="#3550a3" stroke-width="2.0" fill="none"/>
<path d="M570.20 85.88V99.19M567.60 85.88H572.80M567.60 99.19H572.80" stroke="#3550a3" stroke-width="2.0" fill="none"/>
<path d="M603.55 86.99V99.41M600.95 86.99H606.15M600.95 99.41H606.15" stroke="#3550a3" stroke-width="2.0" fill="none"/>
<path d="M636.90 67.69V81.00M634.30 67.69H639.50M634.30 81.00H639.50" stroke="#3550a3" stroke-width="2.0" fill="none"/>
<path d="M670.25 66.58V76.78M667.65 66.58H672.85M667.65 76.78H672.85" stroke="#3550a3" stroke-width="2.0" fill="none"/>
<circle cx="403.45" cy="167.50" r="3.80" fill="#3550a3"/>
<circle cx="436.80" cy="145.10" r="3.80" fill="#3550a3"/>
<circle cx="470.15" cy="119.37" r="3.80" fill="#3550a3"/>
<circle cx="503.50" cy="104.51" r="3.80" fill="#3550a3"/>
<circle cx="536.85" cy="89.87" r="3.80" fill="#3550a3"/>
<circle cx="570.20" cy="92.53" r="3.80" fill="#3550a3"/>
<circle cx="603.55" cy="93.20" r="3.80" fill="#3550a3"/>
<circle cx="636.90" cy="74.35" r="3.80" fill="#3550a3"/>
<circle cx="670.25" cy="71.68" r="3.80" fill="#3550a3"/>
<path d="M14.00 349.90H27.20" stroke="#3550a3" stroke-width="2.3"/>
<circle cx="20.60" cy="349.90" r="3.61" fill="#3550a3"/>
<text x="31.70" y="354.3" textLength="20.7">EV</text>
<path d="M65.20 349.90H78.40" stroke="#3f8a36" stroke-width="2.3"/>
<path d="M71.80 345.88L75.41 352.72L68.19 352.72Z" fill="#3f8a36"/>
<text x="81.50" y="354.3" textLength="53.8">Tse5-CT</text>
<path d="M144.30 349.90H157.50" stroke="#d03a25" stroke-width="2.3"/>
<path d="M150.90 346.29L153.75 349.90L150.90 353.51L148.05 349.90Z" fill="#d03a25"/>
<text x="163.00" y="354.3" textLength="93.6">Tse5-CT + Tsi5</text>
<path d="M274.90 349.90H288.10" stroke="#5b8bd1" stroke-width="2.3"/>
<rect x="278.08" y="346.48" width="6.84" height="6.84" fill="#5b8bd1"/>
<text x="292.00" y="354.3" textLength="72.4">EV (recov.)</text>
<path d="M382.80 349.90H396.00" stroke="#6fb33a" stroke-width="2.3"/>
<path d="M389.40 353.92L393.01 347.08L385.79 347.08Z" fill="#6fb33a"/>
<text x="397.80" y="354.3" textLength="105.3">Tse5-CT (recov.)</text>
<path d="M521.30 349.90H534.50" stroke="#e58b22" stroke-width="2.3"/>
<path d="M526.28 346.67L529.51 346.67L530.75 347.90L530.75 351.89L529.51 353.13L526.28 353.13L525.05 351.89L525.05 347.90Z" fill="#e58b22"/>
<text x="539.80" y="354.3" textLength="144.8">Tse5-CT + Tsi5 (recov.)</text>
</svg></body></html>
